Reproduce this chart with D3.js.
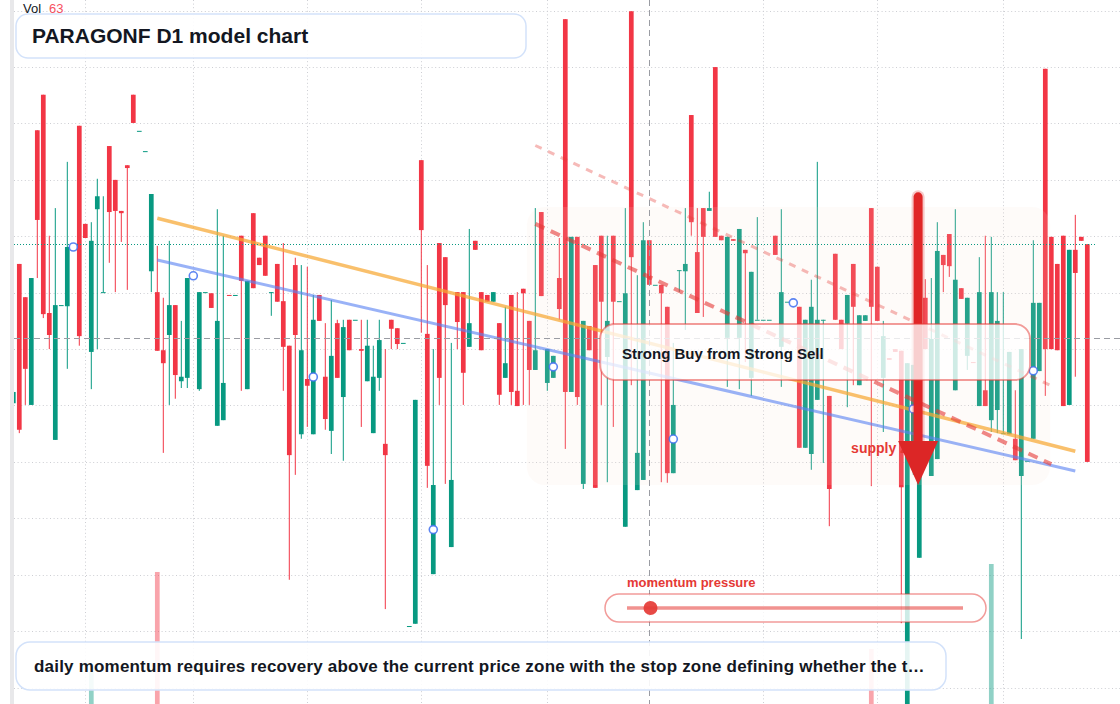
<!DOCTYPE html>
<html>
<head>
<meta charset="utf-8">
<title>PARAGONF D1 model chart</title>
<script src="https://cdn.jsdelivr.net/npm/d3@7"></script>
<style>
  html, body { margin: 0; padding: 0; background: #fff; }
  svg { display: block; font-family: "Liberation Sans", Arial, sans-serif; }
</style>
</head>
<body>
<div id="chart"></div>
<script>
// ---- chart values (daily candles) ----
const chartTitle = 'PARAGONF D1 model chart';
const noteText = 'daily momentum requires recovery above the current price zone with the stop zone defining whether the t\u2026';
const signalText = 'Strong Buy from Strong Sell';
const momentumLabel = 'momentum pressure';
const supplyLabel = 'supply zone';

const opens = [
  5.04, 7.51, 6.92, 5.01, 9.88, 10.51, 6.64, 4.39, 6.78, 6.76,
  7.81, 9.96, 8.22, 5.95, 8.48, 7.01, 9.60, 9.00, 8.45, 9.26,
  10.51, 9.87, 9.51, 7.38, 7.01, 5.98, 6.25, 6.78, 5.43, 5.49,
  7.30, 5.29, 7.01, 6.99, 4.64, 4.74, 6.96, 6.96, 8.01, 5.29,
  8.41, 7.62, 8.01, 7.01, 7.51, 6.85, 6.06, 7.49, 4.49, 5.47,
  4.49, 6.96, 5.51, 4.55, 6.46, 5.15, 6.52, 6.52, 6.00, 5.43,
  4.51, 5.49, 4.32, 6.52, 6.37, 6.11, 1.09, 1.13, 9.35, 6.27,
  2.01, 7.88, 7.63, 2.49, 7.01, 7.01, 6.04, 7.92, 7.01, 6.96,
  6.84, 6.46, 5.49, 6.96, 5.26, 7.07, 6.50, 5.63, 8.43, 5.40,
  5.49, 7.26, 11.85, 5.24, 7.99, 3.61, 6.41, 7.49, 8.01, 5.86,
  8.01, 6.85, 2.85, 11.99, 3.50, 3.68, 7.93, 7.14, 7.14, 6.75,
  3.80, 7.40, 7.38, 10.15, 7.72, 8.50, 8.45, 11.00, 8.01, 6.20,
  7.95, 6.20, 7.76, 5.49, 6.52, 6.52, 6.52, 8.01, 6.04, 6.84,
  6.82, 6.75, 4.25, 4.14, 5.10, 6.52, 5.17, 7.69, 6.52, 6.45,
  7.51, 5.36, 6.50, 8.50, 7.46, 5.49, 5.84, 6.00, 5.97, -0.58,
  4.16, 2.30, 6.91, 3.75, 4.05, 7.67, 8.04, 5.27, 7.08, 5.88,
  5.77, 4.99, 5.27, 4.74, 4.92, 4.51, 4.49, 4.41, 3.75, 4.02,
  4.41, 5.61, 10.97, 7.99, 7.51, 8.01, 5.01, 7.76, 7.99, 7.86
];
const highs = [
  5.24, 7.51, 6.92, 7.26, 9.88, 10.51, 8.01, 8.50, 6.78, 9.32,
  7.81, 9.96, 8.22, 8.25, 9.02, 8.71, 9.60, 9.00, 8.45, 9.26,
  10.51, 9.87, 9.51, 8.75, 7.83, 6.91, 7.92, 6.78, 6.50, 7.26,
  7.30, 7.01, 7.01, 6.99, 8.48, 8.01, 6.96, 6.96, 8.01, 7.21,
  8.41, 7.62, 8.01, 7.01, 7.51, 7.88, 6.06, 7.62, 7.49, 7.46,
  6.96, 6.96, 6.46, 6.87, 6.52, 6.52, 6.52, 6.52, 6.52, 6.52,
  6.06, 6.52, 6.00, 6.52, 6.37, 6.11, 1.09, 5.10, 9.35, 7.49,
  6.00, 7.88, 7.63, 6.11, 7.01, 7.01, 8.13, 7.92, 7.01, 6.96,
  7.01, 6.46, 6.75, 6.96, 7.01, 7.07, 6.50, 8.50, 8.43, 6.00,
  5.88, 7.97, 11.85, 7.99, 7.99, 6.50, 6.41, 7.49, 8.01, 8.01,
  8.01, 6.85, 8.50, 11.99, 7.31, 8.25, 7.93, 7.14, 7.14, 6.75,
  6.11, 7.40, 8.50, 10.15, 8.50, 8.50, 8.79, 11.00, 8.01, 7.99,
  7.95, 8.13, 7.76, 7.37, 8.34, 6.52, 6.52, 8.01, 8.48, 6.84,
  6.82, 6.75, 6.52, 7.23, 9.32, 6.52, 5.17, 7.69, 6.52, 6.96,
  7.51, 6.60, 6.60, 8.50, 7.46, 6.50, 5.84, 6.00, 5.97, 5.75,
  5.72, 5.98, 7.24, 7.26, 8.25, 7.67, 8.04, 8.48, 7.08, 6.91,
  5.77, 7.63, 8.01, 7.99, 7.01, 7.01, 5.95, 5.27, 6.00, 4.02,
  7.93, 6.82, 10.97, 7.99, 7.51, 8.01, 7.76, 8.38, 7.99, 7.86
];
const lows = [
  5.04, 4.51, 5.01, 5.01, 7.26, 6.55, 6.00, 4.39, 6.78, 5.65,
  7.81, 6.06, 7.97, 5.29, 6.00, 7.01, 7.53, 7.01, 7.90, 7.05,
  10.01, 9.87, 9.51, 7.01, 5.97, 4.16, 5.01, 5.12, 5.31, 5.31,
  7.30, 5.26, 7.01, 6.73, 4.64, 4.74, 6.95, 6.96, 5.26, 5.29,
  7.08, 7.49, 7.30, 6.59, 6.84, 5.26, 1.91, 3.77, 4.41, 4.62,
  4.49, 6.50, 4.57, 4.14, 5.49, 4.02, 5.98, 6.52, 4.62, 5.43,
  4.51, 5.26, 1.39, 6.00, 6.00, 6.11, 1.09, 1.13, 6.29, 3.54,
  2.01, 5.01, 3.61, 2.49, 6.00, 5.01, 6.04, 7.76, 5.98, 6.84,
  6.84, 5.01, 5.49, 5.01, 4.99, 5.01, 5.01, 5.63, 6.94, 5.26,
  5.49, 6.52, 4.23, 5.24, 5.01, 3.52, 5.98, 3.54, 5.01, 3.64,
  4.62, 6.85, 2.85, 5.36, 3.50, 3.68, 7.14, 7.14, 3.64, 3.63,
  3.80, 7.01, 6.34, 8.01, 6.64, 6.57, 8.45, 7.99, 7.93, 5.33,
  7.92, 5.29, 5.77, 5.17, 6.52, 6.52, 6.52, 7.67, 5.33, 6.84,
  6.82, 4.25, 4.25, 3.86, 5.10, 3.98, 2.86, 6.52, 6.00, 4.97,
  5.36, 5.36, 6.50, 3.57, 6.50, 4.53, 5.81, 5.95, 1.14, -0.58,
  3.77, 2.30, 6.00, 3.75, 4.05, 7.01, 7.28, 5.27, 6.89, 5.63,
  5.76, 4.99, 4.99, 4.53, 4.51, 4.51, 4.49, 4.03, 0.86, 4.02,
  4.41, 5.61, 5.17, 6.00, 5.98, 4.99, 5.01, 5.51, 7.92, 4.00
];
const closes = [
  5.24, 4.57, 5.65, 7.26, 8.29, 6.62, 6.25, 6.78, 6.78, 7.81,
  7.81, 6.23, 7.97, 7.92, 8.71, 7.01, 8.43, 8.45, 8.41, 9.21,
  10.01, 9.87, 9.51, 8.75, 5.97, 5.75, 6.78, 5.54, 5.51, 7.26,
  7.30, 7.01, 7.01, 6.73, 6.50, 5.40, 6.95, 6.96, 7.21, 7.21,
  7.08, 7.49, 7.30, 7.01, 6.84, 6.04, 4.12, 6.25, 5.98, 5.35,
  6.52, 6.50, 4.76, 5.88, 5.49, 6.39, 5.98, 6.52, 5.97, 6.06,
  5.51, 6.16, 4.12, 6.36, 6.09, 6.11, 1.09, 5.10, 8.11, 3.93,
  3.59, 5.49, 6.78, 3.68, 6.48, 5.58, 6.46, 7.76, 5.98, 6.84,
  7.01, 5.19, 5.75, 5.24, 4.99, 6.99, 5.63, 5.98, 6.94, 6.00,
  5.88, 6.71, 5.24, 7.99, 5.15, 6.50, 5.98, 3.54, 6.84, 6.50,
  6.84, 6.85, 6.99, 7.63, 4.16, 7.93, 7.14, 7.14, 6.99, 3.80,
  5.01, 7.40, 7.51, 8.25, 6.64, 7.99, 8.50, 7.99, 7.93, 7.99,
  7.92, 8.13, 7.70, 7.37, 6.52, 6.52, 6.52, 7.67, 7.01, 6.84,
  6.82, 4.25, 6.52, 6.75, 6.52, 6.52, 3.52, 6.52, 6.00, 6.96,
  6.75, 6.60, 6.60, 6.75, 6.50, 6.23, 5.81, 5.95, 3.55, 5.75,
  5.72, 5.98, 6.00, 6.18, 7.74, 7.49, 7.47, 7.23, 6.89, 6.91,
  5.76, 7.01, 4.99, 7.01, 6.50, 4.51, 5.95, 4.03, 6.00, 4.02,
  6.82, 6.82, 6.00, 6.00, 5.98, 4.99, 7.76, 7.35, 7.92, 4.00
];

const priceTicks = [0, 1, 2, 3, 4, 5, 6, 7, 8, 9, 10, 11, 12];
const timeGridIdx = [12, 30, 49, 68, 89, 125, 144, 165];
const markerIdx = [10, 30, 50, 70, 90, 110, 130, 150, 170];

const volIdx = [13, 24, 143, 163];
const volValues = [457000, 1886000, 786000, 2000000];
const lastVolume = 63;
const lastPrice = 7.86;
const crossIdx = 106;
const crossPrice = 6.19;

// trend lines: [candle index, price]
const trendOrange = [[24, 8.32], [177, 4.19]];
const trendBlue = [[24, 7.58], [177, 3.84]];
const channelLow = [[87, 8.22], [173, 3.96]];
const channelHigh = [[87, 9.61], [173, 5.35]];
const zone = { i0: 85.6, i1: 172.8, top: 8.52, bottom: 3.59 };
const supplyArrow = { i: 150.8, from: 8.70, head: 4.37, to: 3.59 };
const momentumValue = 0.07;

// ---- layout ----
const W = 1120, H = 704;
const plotLeft = 14;
const up = '#089981', down = '#f23645';

const candles = opens.map((o, i) => ({ i, o, h: highs[i], l: lows[i], c: closes[i] }));

const x = d3.scaleLinear().domain([0, 179]).range([13.3, 1087.3]);
const y = d3.scaleLinear().domain([0, 12]).range([687.5, 10.7]);
const vol = d3.scaleLinear().domain([0, 2000000]).range([0, 140]);
const barW = 4.7;

const svg = d3.select('#chart').append('svg')
    .attr('width', W)
    .attr('height', H)
    .attr('viewBox', `0 0 ${W} ${H}`);

svg.append('defs').append('clipPath').attr('id', 'plot')
    .append('rect').attr('x', plotLeft).attr('y', 0).attr('width', W - plotLeft).attr('height', H);

svg.append('rect').attr('width', W).attr('height', H).attr('fill', '#fff');

// grid
const grid = svg.append('g').attr('stroke', '#cdced3').attr('stroke-dasharray', '1,2.6');
grid.selectAll('line.h')
    .data(priceTicks)
    .join('line')
    .attr('class', 'h')
    .attr('x1', plotLeft).attr('x2', W)
    .attr('y1', d => Math.round(y(d)) + 0.5)
    .attr('y2', d => Math.round(y(d)) + 0.5);
grid.selectAll('line.v')
    .data(timeGridIdx)
    .join('line')
    .attr('class', 'v')
    .attr('y1', 0).attr('y2', H)
    .attr('x1', d => Math.round(x(d)) + 0.5)
    .attr('x2', d => Math.round(x(d)) + 0.5);

// left scale strip
svg.append('rect').attr('x', 10).attr('y', 0).attr('width', 4).attr('height', H).attr('fill', '#e8e8ea');

const plot = svg.append('g').attr('clip-path', 'url(#plot)');

// volume
plot.append('g').selectAll('rect')
    .data(volIdx.map((i, k) => ({ i, v: volValues[k], d: candles[i] })))
    .join('rect')
    .attr('x', d => x(d.i) - barW / 2)
    .attr('width', barW)
    .attr('y', d => H - vol(d.v))
    .attr('height', d => vol(d.v))
    .attr('fill', d => d.d.c >= d.d.o ? up : down)
    .attr('opacity', 0.45);

// candles
const cg = plot.append('g');
cg.selectAll('line')
    .data(candles)
    .join('line')
    .attr('x1', d => x(d.i)).attr('x2', d => x(d.i))
    .attr('y1', d => y(d.h)).attr('y2', d => y(d.l))
    .attr('stroke', d => d.c >= d.o ? up : down)
    .attr('stroke-width', 1);
cg.selectAll('rect')
    .data(candles)
    .join('rect')
    .attr('x', d => x(d.i) - barW / 2)
    .attr('width', barW)
    .attr('y', d => y(Math.max(d.o, d.c)))
    .attr('height', d => Math.max(1, y(Math.min(d.o, d.c)) - y(Math.max(d.o, d.c))))
    .attr('fill', d => d.c >= d.o ? up : down);

// zone overlay
plot.append('rect')
    .attr('x', x(zone.i0)).attr('width', x(zone.i1) - x(zone.i0))
    .attr('y', y(zone.top)).attr('height', y(zone.bottom) - y(zone.top))
    .attr('rx', 18)
    .attr('fill', 'rgb(246,226,206)')
    .attr('opacity', 0.13);

// trend lines
const line = d3.line().x(d => x(d[0])).y(d => y(d[1]));
plot.append('path').datum(channelHigh).attr('d', line)
    .attr('fill', 'none').attr('stroke', '#e53935').attr('stroke-opacity', 0.35)
    .attr('stroke-width', 3).attr('stroke-dasharray', '7,7');
plot.append('path').datum(trendOrange).attr('d', line)
    .attr('fill', 'none').attr('stroke', '#f7a833').attr('stroke-opacity', 0.72)
    .attr('stroke-width', 3.5);
plot.append('path').datum(trendBlue).attr('d', line)
    .attr('fill', 'none').attr('stroke', '#5b82f2').attr('stroke-opacity', 0.62)
    .attr('stroke-width', 3);
plot.append('path').datum(channelLow).attr('d', line)
    .attr('fill', 'none').attr('stroke', '#e53935').attr('stroke-opacity', 0.6)
    .attr('stroke-width', 4).attr('stroke-dasharray', '10,7');

// last price line
plot.append('line')
    .attr('x1', plotLeft).attr('x2', x(179) + 8)
    .attr('y1', Math.round(y(lastPrice)) + 0.5).attr('y2', Math.round(y(lastPrice)) + 0.5)
    .attr('stroke', up).attr('stroke-dasharray', '1,2');

// crosshair
const cross = plot.append('g').attr('stroke', '#9a9ca3').attr('stroke-dasharray', '6,4');
cross.append('line')
    .attr('x1', plotLeft).attr('x2', W)
    .attr('y1', Math.round(y(crossPrice)) + 0.5).attr('y2', Math.round(y(crossPrice)) + 0.5);
cross.append('line')
    .attr('y1', 0).attr('y2', H)
    .attr('x1', Math.round(x(crossIdx)) + 0.5).attr('x2', Math.round(x(crossIdx)) + 0.5);

// markers at body midpoints
plot.append('g').selectAll('circle')
    .data(markerIdx.map(i => candles[i]))
    .join('circle')
    .attr('cx', d => x(d.i))
    .attr('cy', d => y((d.o + d.c) / 2))
    .attr('r', 4)
    .attr('fill', '#fff')
    .attr('stroke', '#3f6ff0')
    .attr('stroke-opacity', 0.85)
    .attr('stroke-width', 1.6);

// supply arrow
const ax = x(supplyArrow.i);
svg.append('text')
    .attr('x', ax - 67).attr('y', y(supplyArrow.head) + 12)
    .attr('font-size', 14).attr('font-weight', 'bold')
    .attr('fill', '#e53935')
    .text(supplyLabel);
svg.append('line')
    .attr('x1', ax).attr('x2', ax)
    .attr('y1', y(supplyArrow.from)).attr('y2', y(supplyArrow.head) + 2)
    .attr('stroke', '#e02828').attr('stroke-opacity', 0.25)
    .attr('stroke-width', 13).attr('stroke-linecap', 'round');
svg.append('line')
    .attr('x1', ax).attr('x2', ax)
    .attr('y1', y(supplyArrow.from)).attr('y2', y(supplyArrow.head) + 2)
    .attr('stroke', '#e02626')
    .attr('stroke-width', 9).attr('stroke-linecap', 'round');
svg.append('path')
    .attr('d', `M${ax - 20},${y(supplyArrow.head)}L${ax + 20},${y(supplyArrow.head)}L${ax},${y(supplyArrow.to)}Z`)
    .attr('fill', '#dc2626');

// signal box
svg.append('rect')
    .attr('x', 600).attr('y', 324).attr('width', 430).attr('height', 56).attr('rx', 15)
    .attr('fill', '#fff').attr('fill-opacity', 0.78)
    .attr('stroke', '#e53935').attr('stroke-opacity', 0.5).attr('stroke-width', 1.8);
svg.append('text')
    .attr('x', 622).attr('y', 359)
    .attr('font-size', 15).attr('font-weight', 'bold').attr('fill', '#131722')
    .text(signalText);

// momentum pressure pill
const mx = d3.scaleLinear().domain([0, 1]).range([627, 963]);
svg.append('text')
    .attr('x', 627).attr('y', 587)
    .attr('font-size', 13).attr('font-weight', 'bold').attr('fill', '#e53935')
    .text(momentumLabel);
svg.append('rect')
    .attr('x', 605).attr('y', 594).attr('width', 381).attr('height', 28).attr('rx', 14)
    .attr('fill', '#fff').attr('fill-opacity', 0.8)
    .attr('stroke', '#e53935').attr('stroke-opacity', 0.5).attr('stroke-width', 1.5);
svg.append('line')
    .attr('x1', mx(0)).attr('x2', mx(1)).attr('y1', 608).attr('y2', 608)
    .attr('stroke', '#e53935').attr('stroke-opacity', 0.55).attr('stroke-width', 3.5);
svg.append('circle')
    .attr('cx', mx(momentumValue)).attr('cy', 608).attr('r', 7)
    .attr('fill', '#e53935').attr('fill-opacity', 0.92);

// title box
svg.append('rect')
    .attr('x', 16).attr('y', 14).attr('width', 510).attr('height', 44).attr('rx', 12)
    .attr('fill', '#fff').attr('fill-opacity', 0.9)
    .attr('stroke', '#d3e2fa').attr('stroke-width', 1.5);
svg.append('text')
    .attr('x', 32).attr('y', 43)
    .attr('font-size', 21).attr('font-weight', 'bold').attr('fill', '#131722')
    .text(chartTitle);

// note box
svg.append('rect')
    .attr('x', 16).attr('y', 642).attr('width', 930).attr('height', 48).attr('rx', 14)
    .attr('fill', '#fff').attr('fill-opacity', 0.9)
    .attr('stroke', '#d3e2fa').attr('stroke-width', 1.5);
svg.append('text')
    .attr('x', 34).attr('y', 672)
    .attr('font-size', 17).attr('font-weight', 'bold').attr('fill', '#131722')
    .attr('letter-spacing', 0.2)
    .text(noteText);

// volume legend
const leg = svg.append('text').attr('x', 23).attr('y', 13).attr('font-size', 13);
leg.append('tspan').attr('fill', '#131722').text('Vol');
leg.append('tspan').attr('x', 49).attr('fill', '#f7525f').text(lastVolume);
</script>
</body>
</html>
